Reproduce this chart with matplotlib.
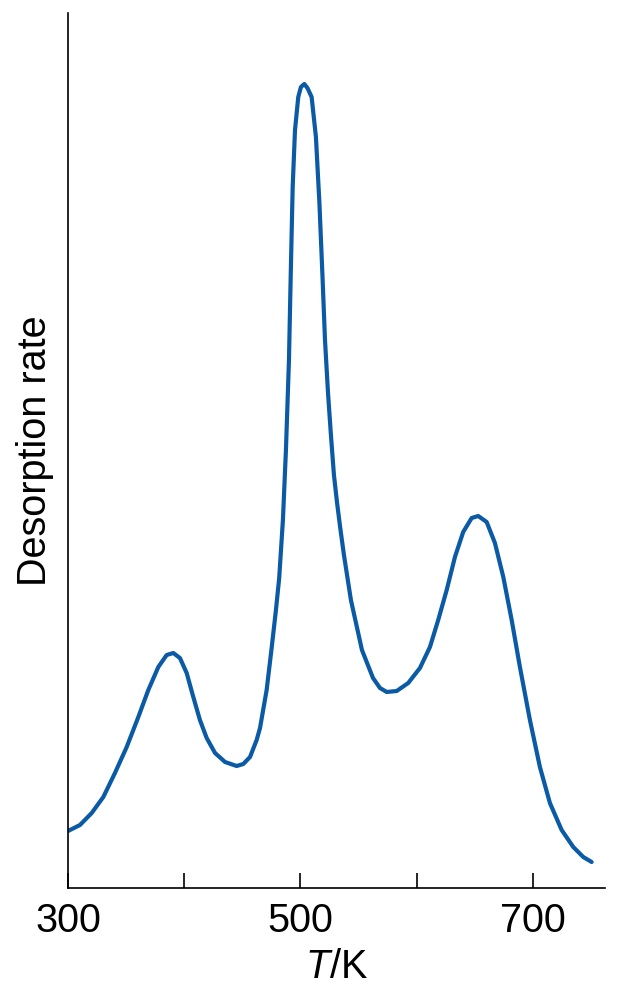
"""TPD spectrum: desorption rate vs temperature (three peaks)."""
import matplotlib
matplotlib.use("Agg")
import matplotlib.pyplot as plt

# values (arbitrary rate units)
temp_K = [300.0, 310.3, 320.4, 330.4, 340.4, 350.5, 360.5, 369.1, 377.7, 384.9,
          390.6, 396.3, 402.1, 407.8, 413.5, 419.3, 426.5, 435.1, 445.1, 450.8,
          456.6, 462.3, 465.2, 470.9, 475.2, 478.9, 481.7, 484.9, 487.5, 490.1,
          491.8, 493.3, 495.3, 498.1, 500.4, 503.3, 506.0, 509.6, 513.3, 516.3,
          518.9, 521.1, 523.7, 526.2, 528.8, 531.4, 534.0, 537.4, 543.4, 552.9,
          562.4, 568.4, 574.2, 582.8, 592.7, 602.8, 611.4, 618.5, 625.8, 632.9,
          640.0, 647.3, 652.9, 660.2, 667.3, 674.5, 681.7, 688.8, 697.4, 706.0,
          714.6, 724.7, 734.7, 743.3, 750.5]
rate = [57, 63, 75, 91, 115, 141, 171, 198, 221, 233,
        235, 230, 215, 191, 168, 150, 135, 126, 122, 124,
        131, 148, 160, 198, 240, 278, 310, 368, 438, 528,
        623, 701, 758, 791, 801, 804, 800, 791, 751, 685,
        613, 548, 495, 453, 413, 386, 362, 333, 288, 238,
        210, 200, 196, 197, 205, 220, 241, 268, 298, 331,
        356, 370, 372, 366, 345, 311, 268, 221, 168, 121,
        85, 58, 41, 31, 26]

x_ticks = [300, 400, 500, 600, 700]
x_ticklabels = ["300", "", "500", "", "700"]

plt.rcParams["font.family"] = ["Liberation Sans", "DejaVu Sans"]
plt.rcParams["mathtext.fontset"] = "custom"
plt.rcParams["mathtext.rm"] = "Liberation Sans"
plt.rcParams["mathtext.it"] = "Liberation Sans:italic"

fig = plt.figure(figsize=(6.28, 10), dpi=100)
ax = fig.add_axes([68 / 628, 0.112, 537 / 628, 0.875])

ax.plot(temp_K, rate, color="#0b5aa5", lw=3.0,
        solid_capstyle="round", solid_joinstyle="round")

ax.set_xlim(300, 762)
ax.set_ylim(0, 875)
ax.spines["top"].set_visible(False)
ax.spines["right"].set_visible(False)
for s in ("left", "bottom"):
    ax.spines[s].set_linewidth(1.2)

ax.set_xticks(x_ticks)
ax.set_xticklabels(x_ticklabels)
ax.set_yticks([])
ax.tick_params(axis="x", direction="in", length=11, width=1.2, pad=10,
               labelsize=28.5)

ax.set_xlabel(r"$T$/K", fontsize=28.5, labelpad=6)
ax.set_ylabel("Desorption rate", fontsize=28.5, labelpad=10)

fig.savefig("out.png", dpi=100)
